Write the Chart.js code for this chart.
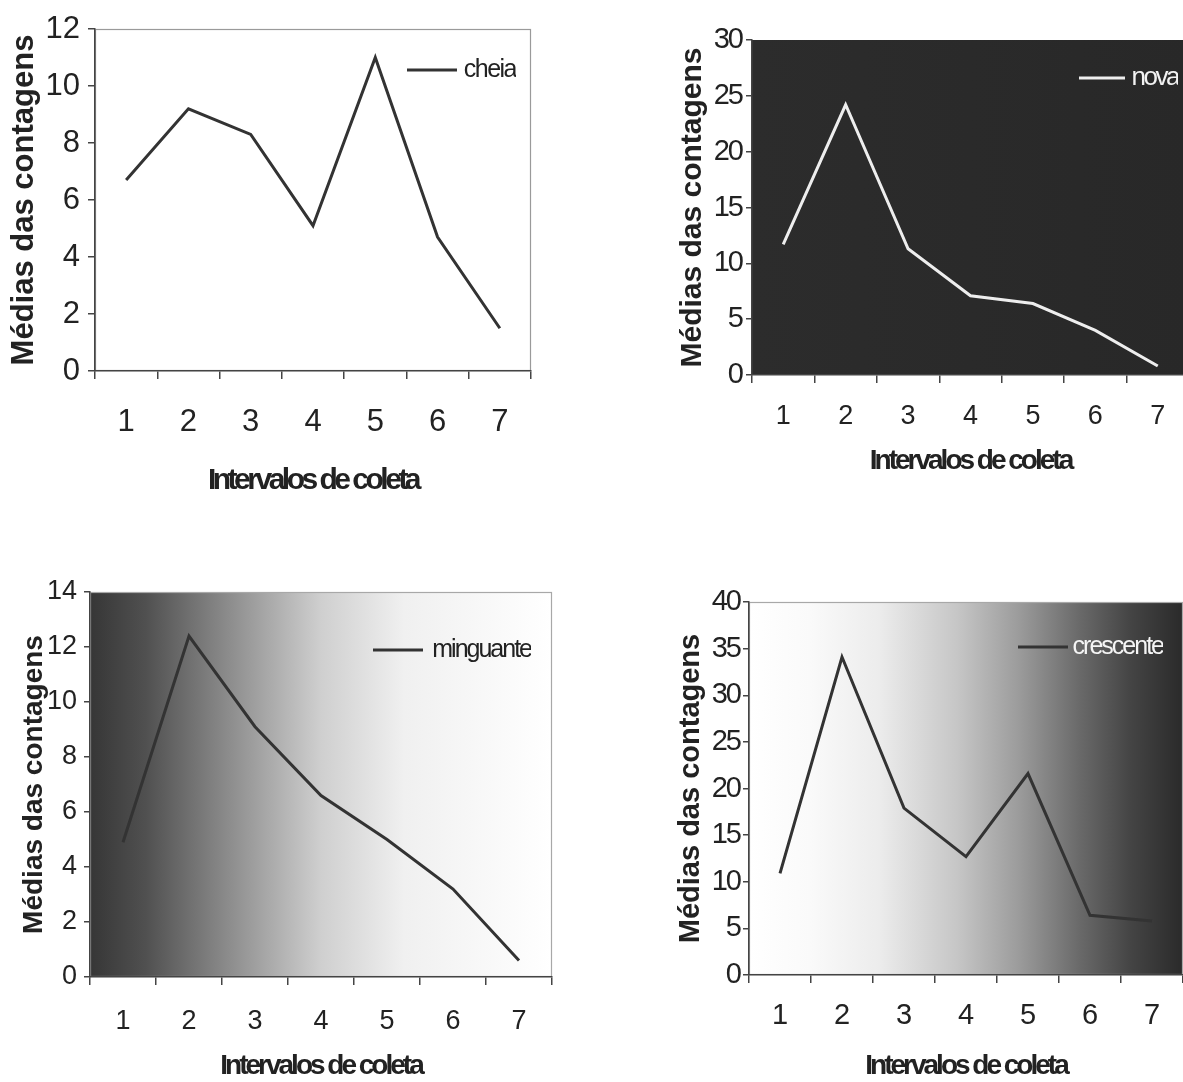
<!DOCTYPE html>
<html>
<head>
<meta charset="utf-8">
<script src="https://cdn.jsdelivr.net/npm/chart.js@4/dist/chart.umd.min.js"></script>
<style>
html,body{margin:0;padding:0;background:#fff;overflow:hidden;}
#page{position:relative;width:1183px;height:1082px;overflow:hidden;background:#fff;}
canvas{position:absolute;display:block;}
</style>
</head>
<body>
<div id="page">
  <canvas id="c1" width="560" height="510" style="left:0px;top:0px"></canvas>
  <canvas id="c2" width="540" height="500" style="left:660px;top:0px"></canvas>
  <canvas id="c3" width="570" height="530" style="left:0px;top:560px"></canvas>
  <canvas id="c4" width="540" height="530" style="left:660px;top:560px"></canvas>
</div>
<script>
// ---- data ----
const categories = ['1', '2', '3', '4', '5', '6', '7'];
const seriesNames = ['cheia', 'nova', 'minguante', 'crescente'];
const cheia = [6.7, 9.2, 8.3, 5.1, 11.0, 4.7, 1.5];
const nova = [11.7, 24.2, 11.3, 7.1, 6.4, 4.0, 0.8];
const minguante = [4.9, 12.4, 9.1, 6.6, 5.0, 3.2, 0.6];
const crescente = [10.9, 34.1, 17.9, 12.7, 21.6, 6.4, 5.8];
const yAxisMax = [12, 30, 14, 40];
const yAxisStep = [2, 5, 2, 5];
const yAxisTitle = 'Médias das contagens';
const xAxisTitle = 'Intervalos de coleta';
const seriesData = [cheia, nova, minguante, crescente];

// ---- layout / style ----
const FONT = "'Liberation Sans', Arial, Helvetica, sans-serif";
const TXT = '#222222';
const AX = '#444444';

const panels = [
  { canvas: 'c1', pad: {left: 0, top: 29, right: 29, bottom: 11}, yW: 95, xH: 128,
    yTick: {size: 31, tl: 7, pad: 8, sp: 0}, xTick: {size: 31, tl: 8, pad: 25},
    yT: {size: 31, pad: 6}, xT: {size: 30, sp: -3.5},
    leg: {x: 407, w: 50, end: 516, y: 70, size: 25, sp: -1.5, color: TXT},
    line: '#333333', stops: [[0, '#ffffff'], [1, '#ffffff']], border: '#9a9a9a' },
  { canvas: 'c2', pad: {left: 0, top: 40, right: 11, bottom: 22}, yW: 92, xH: 103,
    yTick: {size: 29, tl: 6, pad: 4, sp: -2}, xTick: {size: 27, tl: 8, pad: 17},
    yT: {size: 30, pad: 15}, xT: {size: 28, sp: -3},
    leg: {x: 419, w: 46, end: 518, y: 78, size: 26, sp: -2.5, color: '#f2f2f2'},
    line: '#eeeeee', stops: [[0, '#2c2c2c'], [1, '#282828']], border: null },
  { canvas: 'c3', pad: {left: 0, top: 32, right: 18, bottom: 7}, yW: 90, xH: 106,
    yTick: {size: 27, tl: 6, pad: 7, sp: 0}, xTick: {size: 27, tl: 8, pad: 20},
    yT: {size: 28, pad: 17}, xT: {size: 28, sp: -3},
    leg: {x: 373, w: 50, end: 531, y: 90, size: 25, sp: -2, color: TXT},
    line: '#333333',
    stops: [[0, '#363636'], [0.12, '#505050'], [0.3, '#8c8c8c'], [0.5, '#cfcfcf'], [0.68, '#f0f0f0'], [1, '#ffffff']],
    border: '#a8a8a8' },
  { canvas: 'c4', pad: {left: 0, top: 42, right: 17, bottom: 7}, yW: 89, xH: 108,
    yTick: {size: 29, tl: 6, pad: 3, sp: -2}, xTick: {size: 29, tl: 8, pad: 16},
    yT: {size: 29, pad: 14}, xT: {size: 28, sp: -3},
    leg: {x: 358, w: 50, end: 503, y: 87, size: 25, sp: -2, color: '#f5f5f5'},
    line: '#333333',
    stops: [[0, '#ffffff'], [0.14, '#fafafa'], [0.3, '#ececec'], [0.48, '#c6c6c6'], [0.62, '#9c9c9c'], [0.76, '#6a6a6a'], [0.88, '#444444'], [1, '#2a2a2a']],
    border: '#a8a8a8' }
];

function patchSpacing(obj, method, sp) {
  if (!obj || obj['_sp_' + method]) return;
  const orig = obj[method];
  obj[method] = function (...args) {
    const c = this.ctx;
    c.save();
    c.letterSpacing = sp + 'px';
    const r = orig.apply(this, args);
    c.restore();
    return r;
  };
  obj['_sp_' + method] = true;
}

function bgPlugin(P) {
  return {
    id: 'plotBg',
    beforeDraw(chart) {
      const {ctx, chartArea: a} = chart;
      const g = ctx.createLinearGradient(a.left, 0, a.right, 0);
      P.stops.forEach(s => g.addColorStop(s[0], s[1]));
      ctx.save();
      ctx.fillStyle = g;
      ctx.fillRect(a.left, a.top, a.right - a.left, a.bottom - a.top);
      if (P.border) {
        ctx.strokeStyle = P.border;
        ctx.lineWidth = 1.2;
        ctx.strokeRect(a.left + 0.5, a.top + 0.5, a.right - a.left - 1, a.bottom - a.top - 1);
      }
      ctx.restore();
    }
  };
}

function placePlugin(P) {
  return {
    id: 'placeLegend',
    afterLayout(chart) {
      patchSpacing(chart.scales.x, 'drawTitle', P.xT.sp);
      if (P.yTick.sp) patchSpacing(chart.scales.y, 'drawLabels', P.yTick.sp);
    },
    beforeDraw(chart) {
      const lg = chart.legend;
      if (!lg) return;
      lg.left = P.leg.x;
      lg.right = P.leg.end;
      lg.width = lg.right - lg.left;
      lg.top = P.leg.y - P.leg.size / 2;
      lg.height = P.leg.size + 10;
      lg.bottom = lg.top + lg.height;
      patchSpacing(lg, 'draw', P.leg.sp);
    }
  };
}

panels.forEach((P, i) => {
  new Chart(document.getElementById(P.canvas), {
    type: 'line',
    data: {
      labels: categories,
      datasets: [{
        label: seriesNames[i],
        data: seriesData[i],
        borderColor: P.line,
        backgroundColor: P.line,
        borderWidth: 3,
        pointRadius: 0,
        tension: 0,
        fill: false
      }]
    },
    options: {
      responsive: false,
      animation: false,
      devicePixelRatio: 1,
      layout: {padding: P.pad},
      plugins: {
        legend: {
          display: true,
          position: 'chartArea',
          align: 'start',
          labels: {
            usePointStyle: true,
            pointStyle: 'line',
            pointStyleWidth: P.leg.w,
            color: P.leg.color,
            textAlign: 'right',
            padding: 0,
            font: {family: FONT, size: P.leg.size}
          }
        },
        tooltip: {enabled: false},
        title: {display: false}
      },
      scales: {
        x: {
          type: 'category',
          offset: true,
          grid: {display: true, drawOnChartArea: false, drawTicks: true, tickLength: P.xTick.tl, offset: true, color: AX, lineWidth: 1.5},
          border: {display: true, color: AX, width: 1.5},
          ticks: {color: TXT, font: {family: FONT, size: P.xTick.size}, padding: P.xTick.pad, maxRotation: 0, autoSkip: false},
          title: {display: true, text: xAxisTitle, color: TXT, font: {family: FONT, size: P.xT.size, weight: 'bold'}, padding: {top: 0, bottom: 0}},
          afterFit(s) { s.height = P.xH; }
        },
        y: {
          type: 'linear',
          min: 0,
          max: yAxisMax[i],
          grid: {display: true, drawOnChartArea: false, drawTicks: true, tickLength: P.yTick.tl, color: AX, lineWidth: 1.5},
          border: {display: true, color: AX, width: 1.5},
          ticks: {stepSize: yAxisStep[i], color: TXT, font: {family: FONT, size: P.yTick.size}, padding: P.yTick.pad},
          title: {display: true, text: yAxisTitle, color: TXT, font: {family: FONT, size: P.yT.size, weight: 'bold'}, padding: {top: P.yT.pad, bottom: 0}},
          afterFit(s) { s.width = P.yW; }
        }
      }
    },
    plugins: [bgPlugin(P), placePlugin(P)]
  });
});
</script>
</body>
</html>
